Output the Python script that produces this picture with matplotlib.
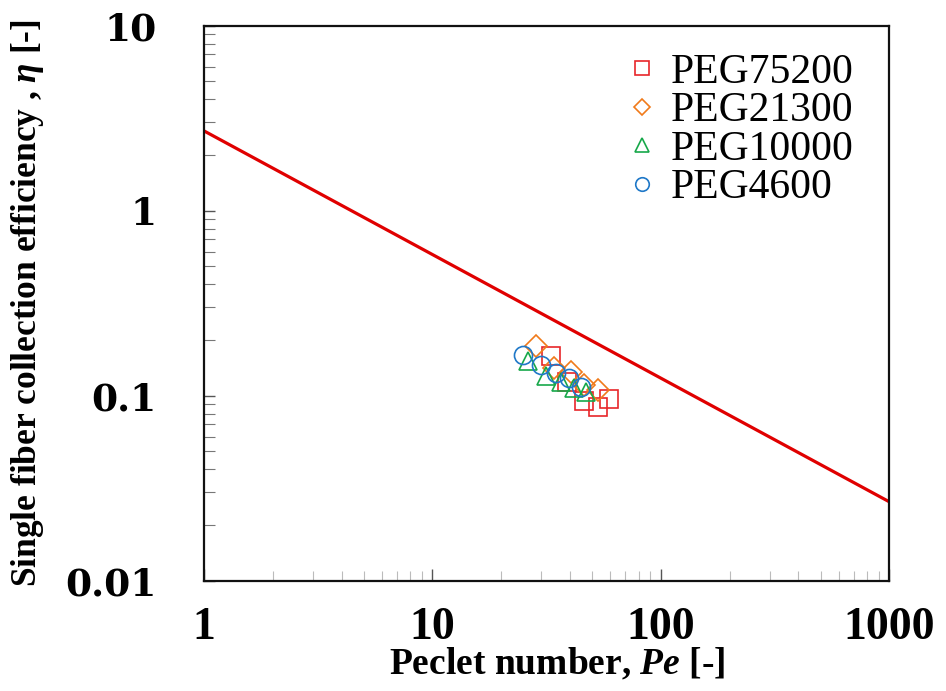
import numpy as np
import matplotlib
matplotlib.use("Agg")
import matplotlib.pyplot as plt

plt.rcParams['font.family'] = ['Liberation Serif', 'DejaVu Serif']
plt.rcParams['mathtext.fontset'] = 'custom'
plt.rcParams['mathtext.rm'] = 'Liberation Serif'
plt.rcParams['mathtext.it'] = 'Liberation Serif:italic'
plt.rcParams['mathtext.bf'] = 'Liberation Serif:bold'
plt.rcParams['mathtext.bfit'] = 'Liberation Serif:italic:bold'

# model line (end points)
pe_line = [1, 1000]
eta_line = [2.70, 0.0267]

# measured points
pe_75200 = [33.0, 39.0, 46.2, 52.8, 59.4]
eta_75200 = [0.163, 0.118, 0.094, 0.087, 0.096]

pe_21300 = [28.4, 34.1, 40.4, 46.2, 52.8]
eta_21300 = [0.185, 0.142, 0.135, 0.114, 0.107]

pe_10000 = [26.1, 31.4, 36.5, 41.8, 47.0]
eta_10000 = [0.154, 0.128, 0.119, 0.110, 0.105]

pe_4600 = [24.8, 29.8, 34.7, 39.7, 44.7]
eta_4600 = [0.166, 0.146, 0.132, 0.124, 0.112]

fig = plt.figure(figsize=(9.46, 6.91), dpi=100)
ax = fig.add_axes([204/946, 1-580.7/691, (889.3-204)/946, (580.7-25.7)/691])

ax.plot(pe_line, eta_line, color='#e00000', lw=2.3, zorder=2)

mk = dict(ls='none', mfc='none', mew=1.2, ms=13)
ax.plot(pe_75200, eta_75200, marker='s', mec='#e8262a', label='PEG75200', **mk)
ax.plot(pe_21300, eta_21300, marker='D', mec='#f07a1a', label='PEG21300', **{**mk, 'ms': 11})
ax.plot(pe_10000, eta_10000, marker='^', mec='#17a84a', label='PEG10000', **mk)
ax.plot(pe_4600, eta_4600, marker='o', mec='#1f78c8', label='PEG4600', **mk)

ax.set_xscale('log')
ax.set_yscale('log')
ax.set_xlim(1, 1000)
ax.set_ylim(0.01, 10)

ax.set_xticks([1, 10, 100, 1000])
ax.set_xticklabels(['1', '10', '100', '1000'], fontsize=33, fontweight='bold')
ax.set_yticks([0.01, 0.1, 1, 10])
ax.set_yticklabels(['0.01', '0.1', '1', '10'], fontsize=27, fontweight='bold',
                   family='DejaVu Serif')

ax.tick_params(axis='both', which='both', direction='in', top=False, right=False)
ax.tick_params(axis='x', which='major', length=9, width=1.0, color='#555555', pad=19)
ax.tick_params(axis='x', which='minor', length=7, width=0.8, color='#bbbbbb')
ax.tick_params(axis='y', which='major', length=8, width=1.0, color='#555555', pad=34)
ax.tick_params(axis='y', which='minor', length=8, width=0.8, color='#777777')

for s in ax.spines.values():
    s.set_linewidth(1.6)
    s.set_color('#111111')

fig.text(557/946, 1-664/691, r'Peclet number, $\mathbfit{Pe}$ [-]', ha='center', va='center',
         fontsize=27, fontweight='bold')
fig.text(28/946, 1-303/691, r'Single fiber collection efficiency , $\mathbfit{\eta}$ [-]',
         ha='center', va='center', rotation=90, fontsize=25.5, fontweight='bold')

leg = ax.legend(loc='upper right', bbox_to_anchor=(0.985, 0.995), frameon=False,
                fontsize=30, markerscale=0.75, handlelength=0.8, handletextpad=0.3,
                labelspacing=0.0, borderaxespad=0.2)

fig.savefig('out.png', dpi=100)
